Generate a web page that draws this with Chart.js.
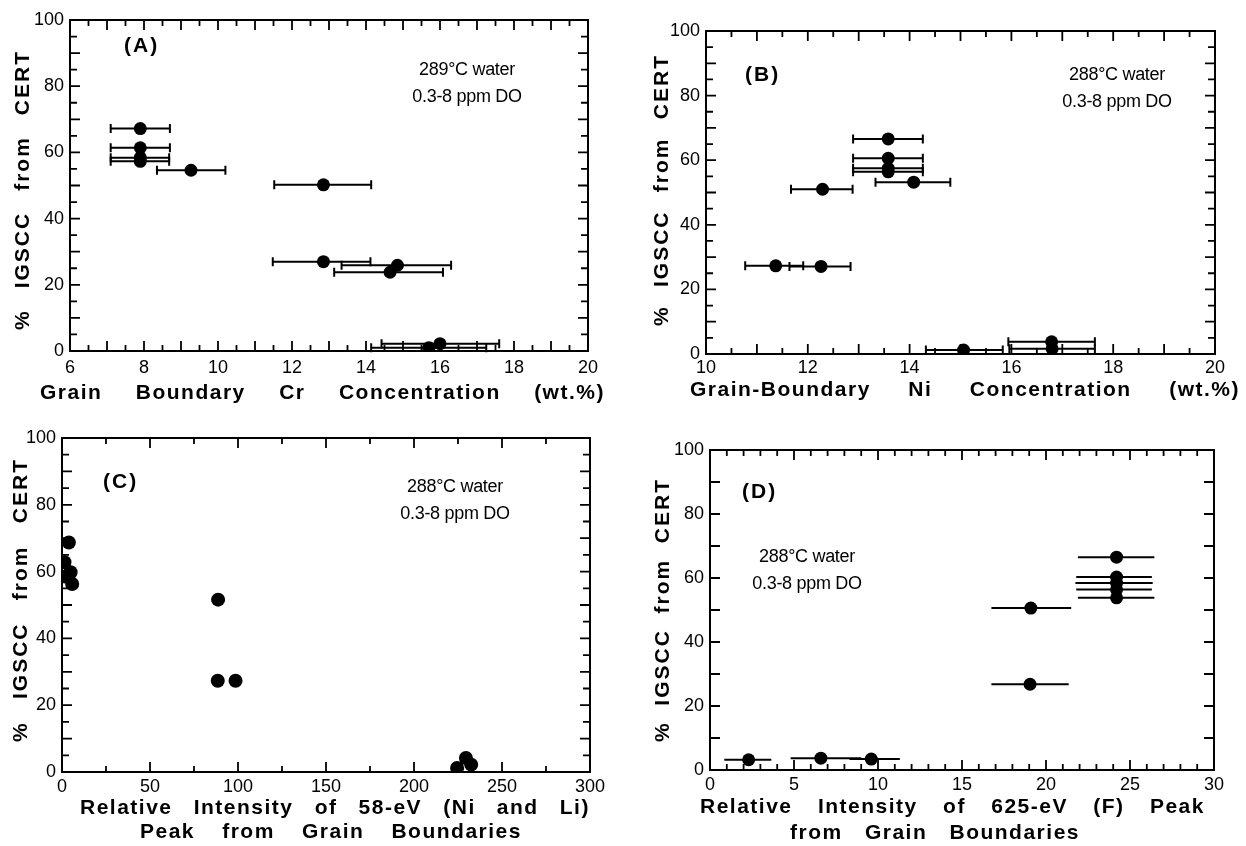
<!DOCTYPE html>
<html>
<head>
<meta charset="utf-8">
<script src="https://cdn.jsdelivr.net/npm/chart.js@4.4.0/dist/chart.umd.min.js"></script>
<style>
  body { margin: 0; background: #fff; width: 1246px; height: 846px; position: relative; overflow: hidden;
         font-family: "Liberation Sans", Arial, Helvetica, sans-serif; color: #000; }
  canvas { position: absolute; }
  .ttl { position: absolute; display: flex; justify-content: space-between; font-weight: bold;
         font-size: 21px; line-height: 24px; height: 24px; letter-spacing: 1.5px; white-space: nowrap; }
  .rot { transform: rotate(-90deg); letter-spacing: 2px; }
  .tag { position: absolute; font-weight: bold; font-size: 21px; letter-spacing: 2px; }
  .note { position: absolute; width: 160px; text-align: center; font-size: 18px; line-height: 27px;
          letter-spacing: -0.3px; white-space: nowrap; }
</style>
</head>
<body>
<canvas id="pA" width="623" height="420" style="left:0;top:0"></canvas>
<canvas id="pB" width="623" height="420" style="left:623px;top:0"></canvas>
<canvas id="pC" width="623" height="426" style="left:0;top:420px"></canvas>
<canvas id="pD" width="623" height="426" style="left:623px;top:420px"></canvas>

<div class="ttl" style="left:40px;top:380px;width:565px"><span>Grain</span><span>Boundary</span><span>Cr</span><span>Concentration</span><span>(wt.%)</span></div>
<div class="ttl" style="left:690px;top:377px;width:550px"><span>Grain-Boundary</span><span>Ni</span><span>Concentration</span><span>(wt.%)</span></div>
<div class="ttl" style="left:80px;top:795px;width:510px"><span>Relative</span><span>Intensity</span><span>of</span><span>58-eV</span><span>(Ni</span><span>and</span><span>Li)</span></div>
<div class="ttl" style="left:140px;top:819px;width:382px"><span>Peak</span><span>from</span><span>Grain</span><span>Boundaries</span></div>
<div class="ttl" style="left:700px;top:794px;width:505px"><span>Relative</span><span>Intensity</span><span>of</span><span>625-eV</span><span>(F)</span><span>Peak</span></div>
<div class="ttl" style="left:790px;top:820px;width:290px"><span>from</span><span>Grain</span><span>Boundaries</span></div>

<div class="ttl rot" style="left:-118px;top:178px;width:280px"><span>%</span><span>IGSCC</span><span>from</span><span>CERT</span></div>
<div class="ttl rot" style="left:525px;top:178px;width:272px"><span>%</span><span>IGSCC</span><span>from</span><span>CERT</span></div>
<div class="ttl rot" style="left:-122px;top:588px;width:284px"><span>%</span><span>IGSCC</span><span>from</span><span>CERT</span></div>
<div class="ttl rot" style="left:530px;top:598px;width:264px"><span>%</span><span>IGSCC</span><span>from</span><span>CERT</span></div>

<div class="tag" style="left:124px;top:33px">(A)</div>
<div class="tag" style="left:745px;top:62px">(B)</div>
<div class="tag" style="left:103px;top:469px">(C)</div>
<div class="tag" style="left:742px;top:479px">(D)</div>

<div class="note" style="left:387px;top:56px">289°C water<br>0.3-8 ppm DO</div>
<div class="note" style="left:1037px;top:61px">288°C water<br>0.3-8 ppm DO</div>
<div class="note" style="left:375px;top:473px">288°C water<br>0.3-8 ppm DO</div>
<div class="note" style="left:727px;top:543px">288°C water<br>0.3-8 ppm DO</div>

<script>
// (A) grain-boundary Cr concentration, wt.%, with scatter band
const crX  = [7.9, 7.9, 7.9, 7.9, 9.27, 12.85, 12.85, 14.85, 14.65, 16.0, 15.7];
const crLo = [7.1, 7.1, 7.1, 7.1, 8.35, 11.52, 11.48, 13.34, 13.14, 14.42, 14.14];
const crHi = [8.7, 8.7, 8.68, 8.68, 10.2, 14.14, 14.12, 16.3, 16.08, 17.6, 17.25];
const crY  = [67.2, 61.4, 58.4, 57.3, 54.6, 50.2, 27.0, 25.9, 23.8, 2.2, 1.0];

// (B) grain-boundary Ni concentration, wt.%
const niX  = [13.58, 13.58, 13.58, 13.58, 14.08, 12.29, 11.37, 12.26, 15.06, 16.79, 16.8];
const niLo = [12.89, 12.89, 12.89, 12.89, 13.33, 11.67, 10.77, 11.64, 14.32, 15.94, 15.96];
const niHi = [14.26, 14.26, 14.26, 14.26, 14.8, 12.88, 11.91, 12.84, 15.83, 17.64, 17.64];
const niY  = [66.6, 60.6, 57.5, 56.4, 53.2, 51.0, 27.3, 27.1, 1.2, 3.8, 1.6];

// (C) relative intensity of the 58-eV (Ni and Li) peak
const liX = [1.4, 3.9, 4.9, 1.9, 5.8, 88.7, 88.5, 98.6, 224.5, 229.5, 232.5];
const liY = [62.8, 68.7, 59.8, 58.5, 56.3, 51.6, 27.3, 27.3, 1.2, 4.2, 2.2];

// (D) relative intensity of the 625-eV (F) peak
const fX  = [2.3, 6.6, 9.6, 19.1, 19.05, 24.2, 24.2, 24.2, 24.2, 24.2];
const fLo = [0.85, 4.8, 8.3, 16.75, 16.75, 21.9, 21.8, 21.75, 21.8, 21.9];
const fHi = [3.65, 9.0, 11.3, 21.5, 21.35, 26.45, 26.3, 26.35, 26.3, 26.45];
const fY  = [3.2, 3.7, 3.4, 50.6, 26.8, 66.5, 60.3, 58.4, 56.4, 53.8];

const yTicks = [0, 20, 40, 60, 80, 100];

const ink = '#000';
Chart.defaults.font.family = '"Liberation Sans", Arial, Helvetica, sans-serif';
Chart.defaults.font.size = 18;
Chart.defaults.color = ink;

// horizontal scatter bars drawn through the scales
const errBars = {
  id: 'errBars',
  beforeDatasetsDraw(chart) {
    const {ctx, scales: {x, y}} = chart;
    chart.data.datasets.forEach(ds => {
      if (!ds.xLo) return;
      ctx.save();
      ctx.strokeStyle = ink;
      ctx.lineWidth = 2;
      ds.data.forEach((p, i) => {
        const py = y.getPixelForValue(p.y);
        const x0 = x.getPixelForValue(ds.xLo[i]);
        const x1 = x.getPixelForValue(ds.xHi[i]);
        ctx.beginPath();
        ctx.moveTo(x0, py); ctx.lineTo(x1, py);
        if (ds.cap) {
          ctx.moveTo(x0, py - 4.5); ctx.lineTo(x0, py + 4.5);
          ctx.moveTo(x1, py - 4.5); ctx.lineTo(x1, py + 4.5);
        }
        ctx.stroke();
      });
      ctx.restore();
    });
  }
};

// box with inward ticks on all four sides
const frame = {
  id: 'frame',
  beforeDatasetsDraw(chart, args, o) {
    const {ctx, chartArea: a, scales: {x, y}} = chart;
    const isMajor = (v, m) => Math.abs(v / m - Math.round(v / m)) < 1e-6;
    ctx.save();
    ctx.strokeStyle = ink;
    ctx.lineWidth = 2;
    ctx.strokeRect(a.left, a.top, a.right - a.left, a.bottom - a.top);
    ctx.lineWidth = 1.8;
    ctx.beginPath();
    for (let v = x.min; v <= x.max + 1e-9; v += o.xMinor) {
      const px = x.getPixelForValue(v);
      const len = isMajor(v, o.xMajor) ? 10 : 6;
      ctx.moveTo(px, a.bottom); ctx.lineTo(px, a.bottom - len);
      ctx.moveTo(px, a.top); ctx.lineTo(px, a.top + len);
    }
    for (let v = y.min; v <= y.max + 1e-9; v += o.yMinor) {
      const py = y.getPixelForValue(v);
      const len = isMajor(v, o.yMajor) ? 10 : 7;
      ctx.moveTo(a.left, py); ctx.lineTo(a.left + len, py);
      ctx.moveTo(a.right, py); ctx.lineTo(a.right - len, py);
    }
    ctx.stroke();
    ctx.restore();
  }
};

function makePanel(id, p) {
  const c = document.getElementById(id);
  const W = c.width, H = c.height;
  return new Chart(c, {
    type: 'scatter',
    data: {
      datasets: [{
        data: p.xs.map((v, i) => ({x: v, y: p.ys[i]})),
        xLo: p.lo, xHi: p.hi, cap: p.cap,
        pointRadius: p.r, pointHoverRadius: p.r,
        backgroundColor: ink, borderColor: ink, borderWidth: 0
      }]
    },
    options: {
      responsive: false,
      animation: false,
      events: [],
      layout: { padding: { left: 0, top: p.area[2], right: W - p.area[1], bottom: 0 } },
      plugins: {
        legend: { display: false },
        tooltip: { enabled: false },
        frame: p.ticks
      },
      scales: {
        x: {
          type: 'linear', min: p.xMin, max: p.xMax,
          ticks: { stepSize: p.xStep, padding: p.xPad, maxRotation: 0, autoSkip: false },
          grid: { display: false, drawTicks: false },
          border: { display: false },
          afterFit: s => { s.height = H - p.area[3]; }
        },
        y: {
          type: 'linear', min: 0, max: 100,
          afterBuildTicks: s => { s.ticks = yTicks.map(v => ({value: v})); },
          ticks: { padding: 6 },
          grid: { display: false, drawTicks: false },
          border: { display: false },
          afterFit: s => { s.width = p.area[0]; }
        }
      }
    },
    plugins: [frame, errBars]
  });
}

makePanel('pA', { xs: crX, ys: crY, lo: crLo, hi: crHi, cap: true, r: 6.5,
  xMin: 6, xMax: 20, xStep: 2, xPad: 6, area: [70, 588, 20, 351],
  ticks: { xMinor: 0.5, xMajor: 1, yMinor: 5, yMajor: 10 } });
makePanel('pB', { xs: niX, ys: niY, lo: niLo, hi: niHi, cap: true, r: 6.5,
  xMin: 10, xMax: 20, xStep: 2, xPad: 3, area: [83, 592, 31, 354],
  ticks: { xMinor: 0.5, xMajor: 1, yMinor: 5, yMajor: 10 } });
makePanel('pC', { xs: liX, ys: liY, r: 7,
  xMin: 0, xMax: 300, xStep: 50, xPad: 4, area: [62, 590, 18, 352],
  ticks: { xMinor: 25, xMajor: 50, yMinor: 5, yMajor: 10 } });
makePanel('pD', { xs: fX, ys: fY, lo: fLo, hi: fHi, cap: false, r: 6.5,
  xMin: 0, xMax: 30, xStep: 5, xPad: 4, area: [87, 591, 30, 350],
  ticks: { xMinor: 1, xMajor: 5, yMinor: 10, yMajor: 10 } });
</script>
</body>
</html>
